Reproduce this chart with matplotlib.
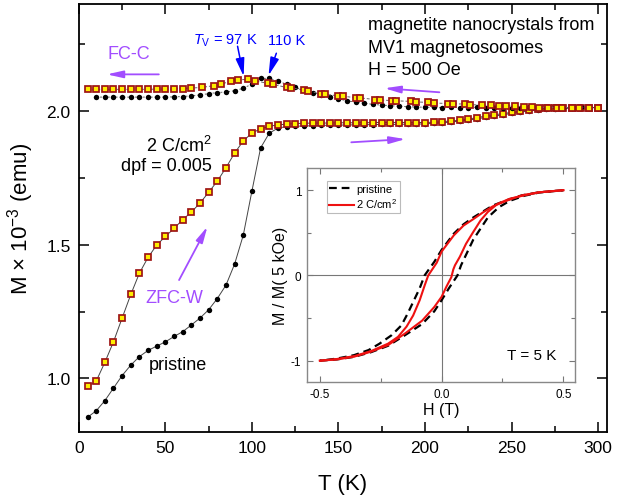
import numpy as np
import matplotlib
matplotlib.use('Agg')
import matplotlib.pyplot as plt
from matplotlib.ticker import MultipleLocator, FormatStrFormatter

plt.rcParams['font.family'] = ['Liberation Sans', 'DejaVu Sans']
plt.rcParams['mathtext.fontset'] = 'custom'
plt.rcParams['mathtext.rm'] = 'Liberation Sans'
plt.rcParams['mathtext.it'] = 'Liberation Sans:italic'

# ZFC-W (both samples measured at the same temperatures)
T_zfc = [5, 10, 15, 20, 25, 30, 35, 40, 45, 50, 55, 60, 65, 70, 75, 80, 85, 90, 95, 100,
         105, 110, 115, 120, 125, 130, 135, 140, 145, 150, 155, 160, 165, 170, 175, 180, 185, 190, 195, 200,
         205, 210, 215, 220, 225, 230, 235, 240, 245, 250, 255, 260, 265, 270, 275, 280, 285, 290, 295, 300]
M_zfc_pristine = [0.855, 0.879, 0.917, 0.964, 1.011, 1.050, 1.082, 1.105, 1.121, 1.137,
                  1.157, 1.175, 1.200, 1.226, 1.257, 1.299, 1.349, 1.428, 1.536, 1.701,
                  1.862, 1.917, 1.936, 1.942, 1.943, 1.944, 1.945, 1.946, 1.947, 1.947,
                  1.948, 1.948, 1.949, 1.949, 1.950, 1.950, 1.950, 1.951, 1.951, 1.952,
                  1.954, 1.956, 1.959, 1.962, 1.966, 1.971, 1.976, 1.981, 1.986, 1.991,
                  1.996, 2.000, 2.004, 2.007, 2.009, 2.010, 2.011, 2.012, 2.012, 2.013]
M_zfc_2C = [0.971, 0.990, 1.060, 1.137, 1.226, 1.314, 1.394, 1.453, 1.499, 1.531,
            1.561, 1.594, 1.622, 1.656, 1.696, 1.738, 1.788, 1.843, 1.888, 1.918,
            1.933, 1.943, 1.948, 1.951, 1.953, 1.954, 1.955, 1.955, 1.955, 1.956,
            1.956, 1.956, 1.956, 1.957, 1.957, 1.957, 1.957, 1.957, 1.957, 1.957,
            1.958, 1.960, 1.963, 1.965, 1.970, 1.975, 1.981, 1.986, 1.990, 1.995,
            2.000, 2.005, 2.009, 2.010, 2.011, 2.012, 2.012, 2.013, 2.013, 2.013]

# FC-C
T_fc_pristine = [10, 15, 20, 25, 30, 35, 40, 45, 50, 55, 60, 65, 70, 75, 80, 85, 90, 95, 100,
                 105, 110, 115, 120, 125, 130, 135, 140, 145, 150, 155, 160, 165, 170, 175, 180, 185, 190, 195, 200,
                 205, 210, 215, 220, 225, 230, 235, 240, 245, 250, 255, 260, 265, 270, 275, 280, 285, 290, 295, 300]
M_fc_pristine = [2.052, 2.052, 2.052, 2.052, 2.052, 2.052, 2.052, 2.052, 2.052, 2.053,
                 2.054, 2.057, 2.060, 2.065, 2.069, 2.071, 2.076, 2.085, 2.101,
                 2.122, 2.122, 2.112, 2.100, 2.088, 2.078, 2.069, 2.061, 2.053, 2.045,
                 2.038, 2.033, 2.029, 2.025, 2.022, 2.020, 2.018, 2.016, 2.015, 2.014,
                 2.014, 2.013, 2.014, 2.013, 2.013, 2.014, 2.012, 2.013, 2.013, 2.012,
                 2.013, 2.014, 2.012, 2.013, 2.015, 2.012, 2.013, 2.014, 2.013, 2.013]
T_fc_2C = [5, 10, 15, 20, 25, 30, 35, 40, 45, 50, 55, 60, 65, 71, 78, 82, 88, 92, 98, 102,
           109, 112, 120, 122.5, 130, 132.5, 140, 142.5, 150, 152.5, 160, 162.5, 171, 174,
           181, 183.5, 192, 195, 202, 205, 213, 216, 223, 226, 233, 238, 243, 247, 252, 257,
           262, 266, 271, 276, 279, 285, 289, 295, 300]
M_fc_2C = [2.081, 2.081, 2.081, 2.081, 2.081, 2.081, 2.081, 2.081, 2.082, 2.082, 2.082, 2.084, 2.086,
           2.088, 2.095, 2.100, 2.112, 2.116, 2.119, 2.112, 2.104, 2.100, 2.088, 2.087, 2.078, 2.075,
           2.064, 2.062, 2.057, 2.055, 2.050, 2.049, 2.043, 2.041, 2.039, 2.038, 2.036, 2.034,
           2.032, 2.030, 2.028, 2.027, 2.026, 2.024, 2.022, 2.021, 2.020, 2.020, 2.018, 2.016,
           2.014, 2.013, 2.013, 2.013, 2.013, 2.013, 2.013, 2.013, 2.013]

# inset: hysteresis loops at 5 K
H_pr_down = [0.5, 0.4, 0.33, 0.27, 0.21, 0.17, 0.13, 0.09, 0.05, 0.0, -0.03, -0.07, -0.09,
             -0.115, -0.14, -0.165, -0.205, -0.255, -0.30, -0.36, -0.43, -0.5]
M_pr_down = [1.0, 0.975, 0.94, 0.885, 0.82, 0.75, 0.68, 0.60, 0.49, 0.30, 0.16, 0.0, -0.15,
             -0.30, -0.45, -0.585, -0.70, -0.80, -0.875, -0.935, -0.975, -1.0]
H_pr_up = [-0.5, -0.43, -0.36, -0.29, -0.22, -0.15, -0.08, -0.03, 0.0, 0.03, 0.065, 0.08,
           0.105, 0.13, 0.16, 0.19, 0.235, 0.28, 0.34, 0.4, 0.5]
M_pr_up = [-1.0, -0.985, -0.955, -0.90, -0.825, -0.70, -0.57, -0.42, -0.29, -0.15, 0.0, 0.12,
           0.27, 0.42, 0.55, 0.68, 0.80, 0.875, 0.935, 0.972, 1.0]
H_2C_down = [0.5, 0.4, 0.33, 0.27, 0.21, 0.17, 0.13, 0.09, 0.05, 0.0, -0.02, -0.055, -0.07,
             -0.09, -0.117, -0.144, -0.179, -0.22, -0.288, -0.357, -0.43, -0.5]
M_2C_down = [1.0, 0.975, 0.94, 0.88, 0.81, 0.74, 0.66, 0.585, 0.47, 0.28, 0.15, 0.0, -0.12,
             -0.29, -0.47, -0.60, -0.72, -0.80, -0.885, -0.945, -0.98, -1.0]
H_2C_up = [-0.5, -0.43, -0.36, -0.29, -0.22, -0.15, -0.08, -0.03, 0.0, 0.02, 0.04, 0.048,
           0.055, 0.075, 0.10, 0.13, 0.16, 0.19, 0.23, 0.28, 0.34, 0.4, 0.5]
M_2C_up = [-1.0, -0.985, -0.953, -0.894, -0.817, -0.68, -0.53, -0.37, -0.25, -0.13, -0.02, 0.07,
           0.12, 0.22, 0.37, 0.51, 0.645, 0.745, 0.84, 0.90, 0.94, 0.975, 1.0]

purple = '#a24dff'
sq = dict(marker='s', ms=3.7, mfc='#ffee00', mec='#9e1414', mew=1.25)
dot = dict(marker='o', ms=3.9, mfc='black', mec='black', mew=0)

fig = plt.figure(figsize=(6.36, 5.02), dpi=100)
ax = fig.add_axes([0.124, 0.1375, 0.830, 0.8525])

ax.plot(T_zfc, M_zfc_pristine, color='#444444', lw=0.7, ls='-', **dot)
ax.plot(T_zfc, M_zfc_2C, color='#444444', lw=0.7, ls='-', **sq)
ax.plot(T_fc_pristine, M_fc_pristine, color='#666666', lw=0.7, ls=(0, (2, 2)), **dot)
ax.plot(T_fc_2C, M_fc_2C, color='#666666', lw=0.7, ls=(0, (3, 2)), **sq)

ax.set_xlim(0, 305)
ax.set_ylim(0.8, 2.4)
ax.xaxis.set_major_locator(MultipleLocator(50))
ax.xaxis.set_minor_locator(MultipleLocator(25))
ax.yaxis.set_major_locator(MultipleLocator(0.5))
ax.yaxis.set_minor_locator(MultipleLocator(0.25))
ax.yaxis.set_major_formatter(FormatStrFormatter('%.1f'))
ax.tick_params(which='both', direction='in', top=True, right=True, width=1.1, labelsize=12.5)
ax.tick_params(which='major', length=7, pad=6)
ax.tick_params(which='minor', length=4)
for s in ax.spines.values():
    s.set_linewidth(1.3)
ax.set_xlabel('T (K)', fontsize=16, labelpad=13)
ax.set_ylabel(r'M $\times$ 10$^{-3}$ (emu)', fontsize=16, labelpad=7)

# annotations
ax.text(167.3, 2.307, 'magnetite nanocrystals from', fontsize=13, ha='left', va='baseline')
ax.text(167.3, 2.219, 'MV1 magnetosoomes', fontsize=13, ha='left', va='baseline')
ax.text(167.3, 2.137, 'H = 500 Oe', fontsize=13, ha='left', va='baseline')
ax.text(28.9, 2.216, 'FC-C', color=purple, fontsize=13, ha='center', va='center')
ax.text(55.4, 1.303, 'ZFC-W', color=purple, fontsize=13, ha='center', va='center')
ax.text(57.1, 1.053, 'pristine', fontsize=13, ha='center', va='center')
ax.text(76.7, 1.872, r'2 C/cm$^2$', fontsize=13, ha='right', va='center')
ax.text(76.7, 1.798, 'dpf = 0.005', fontsize=13, ha='right', va='center')
ax.text(84.7, 2.265, r'$T_{\rm V}$ = 97 K', color='blue', fontsize=10.5, ha='center', va='center')
ax.text(120.0, 2.265, '110 K', color='blue', fontsize=10.5, ha='center', va='center')

parrow = dict(arrowstyle='-|>,head_width=0.18,head_length=0.8', color=purple, lw=1.3,
              mutation_scale=12, shrinkA=0, shrinkB=0)
ax.annotate('', xy=(16.2, 2.137), xytext=(46.2, 2.137), arrowprops=parrow)
ax.annotate('', xy=(176.6, 2.085), xytext=(208.3, 2.070), arrowprops=parrow)
ax.annotate('', xy=(188.7, 1.895), xytext=(157.4, 1.883), arrowprops=parrow)
ax.annotate('', xy=(74.3, 1.568), xytext=(57.9, 1.368), arrowprops=parrow)
barrow = dict(arrowstyle='-|>,head_width=0.22,head_length=0.9', color='blue', lw=1.1,
              mutation_scale=12, shrinkA=0, shrinkB=0)
ax.annotate('', xy=(95.2, 2.130), xytext=(91.7, 2.242), arrowprops=barrow)
ax.annotate('', xy=(109.6, 2.133), xytext=(114.1, 2.216), arrowprops=barrow)

# inset
ins = fig.add_axes([0.4827, 0.237, 0.4214, 0.4263])
ins.axhline(0, color='#777777', lw=0.8)
ins.axvline(0, color='#777777', lw=0.8)
ins.plot(H_pr_down, M_pr_down, color='black', lw=1.6, ls=(0, (3.5, 2.2)), label='pristine')
ins.plot(H_pr_up, M_pr_up, color='black', lw=1.6, ls=(0, (3.5, 2.2)))
ins.plot(H_2C_down, M_2C_down, color='#ee1111', lw=1.5, label=r'2 C/cm$^2$')
ins.plot(H_2C_up, M_2C_up, color='#ee1111', lw=1.5)
ins.set_xlim(-0.553, 0.548)
ins.set_ylim(-1.25, 1.26)
ins.xaxis.set_major_locator(MultipleLocator(0.5))
ins.xaxis.set_minor_locator(MultipleLocator(0.25))
ins.yaxis.set_major_locator(MultipleLocator(1))
ins.yaxis.set_minor_locator(MultipleLocator(0.5))
ins.xaxis.set_major_formatter(FormatStrFormatter('%.1f'))
ins.yaxis.set_major_formatter(FormatStrFormatter('%d'))
ins.tick_params(which='both', direction='in', top=True, right=True, width=0.8,
                color='#777777', labelsize=8.5)
ins.tick_params(which='major', length=4, pad=4)
ins.tick_params(which='minor', length=3)
for s in ins.spines.values():
    s.set_color('#888888')
    s.set_linewidth(1.0)
ins.set_xlabel('H (T)', fontsize=11.5, labelpad=2)
ins.set_ylabel('M / M( 5 kOe)', fontsize=11.5, labelpad=2)
ins.text(0.47, -0.93, 'T = 5 K', fontsize=11, ha='right', va='center')
leg = ins.legend(loc='upper left', bbox_to_anchor=(0.073, 0.939), fontsize=8,
                 handlelength=2.2, frameon=True, fancybox=False, borderpad=0.25,
                 labelspacing=0.25, handletextpad=0.2, borderaxespad=0)
leg.get_frame().set_edgecolor('#aaaaaa')
leg.get_frame().set_linewidth(0.8)

fig.savefig('out.png', dpi=100)
